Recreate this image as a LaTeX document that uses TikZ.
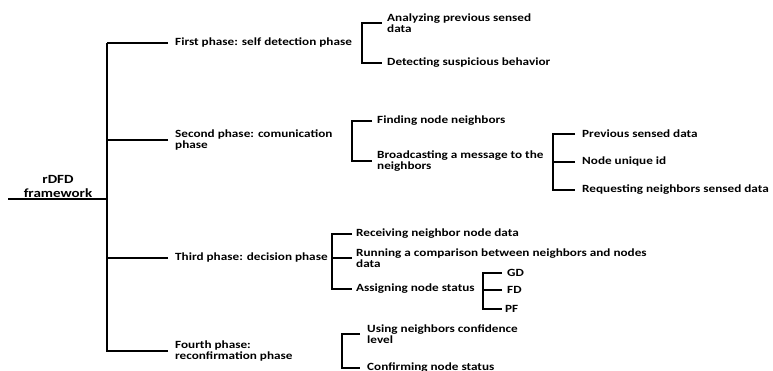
\documentclass[tikz,border=0pt]{standalone}
\usepackage{fontspec}
\setmainfont{Carlito}[FakeStretch=1.2]
\usepackage{tikz}
\usetikzlibrary{positioning}

\begin{document}
\begin{tikzpicture}[x=1pt,y=-1pt,
  ln/.style={line width=1.8pt,black},
  ph/.style={anchor=west,inner xsep=7pt,inner ysep=0pt,align=left,
    font=\fontsize{11}{11}\selectfont\bfseries},
  lf/.style={anchor=west,inner xsep=5pt,inner ysep=0pt,align=left,
    font=\fontsize{11}{11}\selectfont\bfseries},
  rt/.style={align=center,inner sep=0pt,font=\fontsize{12.5}{14}\selectfont\bfseries}]
  \useasboundingbox (0,0) rectangle (773,371);
  % root and main spine
  \node[rt] (root) at (58,186) {rDFD\\framework};
  \coordinate (rootL) at (8,199);
  \coordinate (hub) at (107,199);
  \coordinate (top) at (107,43);
  \coordinate (bot) at (107,352);
  \draw[ln] (rootL) -- (hub);
  \draw[ln] (top) -- (bot);
  % phases
  \node[ph] (p1) at (168,43) {First phase: self detection phase};
  \node[ph] (p2) at (168,140) {Second phase: comunication\\phase};
  \node[ph] (p3) at (168,258) {Third phase: decision phase};
  \node[ph] (p4) at (168,351) {Fourth phase:\\reconfirmation phase};
  \foreach \p in {p1,p2,p3,p4}
    \draw[ln] (\p.west) -- (\p.west -| top);
  % first phase
  \node[lf] (a1) at (382,23) {Analyzing previous sensed\\data};
  \node[lf] (a2) at (382,63) {Detecting suspicious behavior};
  \draw[ln] (a1.west) -- ++(-20,0) |- (a2.west);
  % second phase
  \node[lf] (b1) at (372,121) {Finding node neighbors};
  \node[lf] (b2) at (372,161) {Broadcasting a message to the\\neighbors};
  \draw[ln] (b1.west) -- ++(-20,0) |- (b2.west);
  \node[lf,inner xsep=7pt] (c1) at (575,134) {Previous sensed data};
  \node[lf,inner xsep=7pt] (c2) at (575,162) {Node unique id};
  \node[lf,inner xsep=7pt] (c3) at (575,190) {Requesting neighbors sensed data};
  \draw[ln] (c1.west) -- ++(-22,0) |- (c3.west);
  \draw[ln] (c2.west) -- ++(-22,0);
  % third phase
  \node[lf,inner xsep=4pt] (d1) at (352,234) {Receiving neighbor node data};
  \node[lf,inner xsep=4pt] (d2) at (352,258) {Running a comparison between neighbors and nodes\\data};
  \node[lf,inner xsep=4pt] (d3) at (352,289) {Assigning node status};
  \draw[ln] (d1.west) -- ++(-20,0) |- (d3.west);
  \draw[ln] (d2.west) -- ++(-20,0);
  \node[lf] (e1) at (502,273) {GD};
  \node[lf] (e2) at (502,290) {FD};
  \node[lf,inner xsep=3pt] (e3) at (502,309) {PF};
  \draw[ln] (e1.west) -- ++(-19,0) |- (e3.west);
  \draw[ln] (e2.west) -- ++(-19,0);
  % fourth phase
  \node[lf,inner xsep=7pt] (f1) at (360,334) {Using neighbors confidence\\level};
  \node[lf,inner xsep=7pt] (f2) at (360,368) {Confirming node status};
  \draw[ln] (f1.west) -- ++(-18,0) |- (f2.west);
\end{tikzpicture}
\end{document}
